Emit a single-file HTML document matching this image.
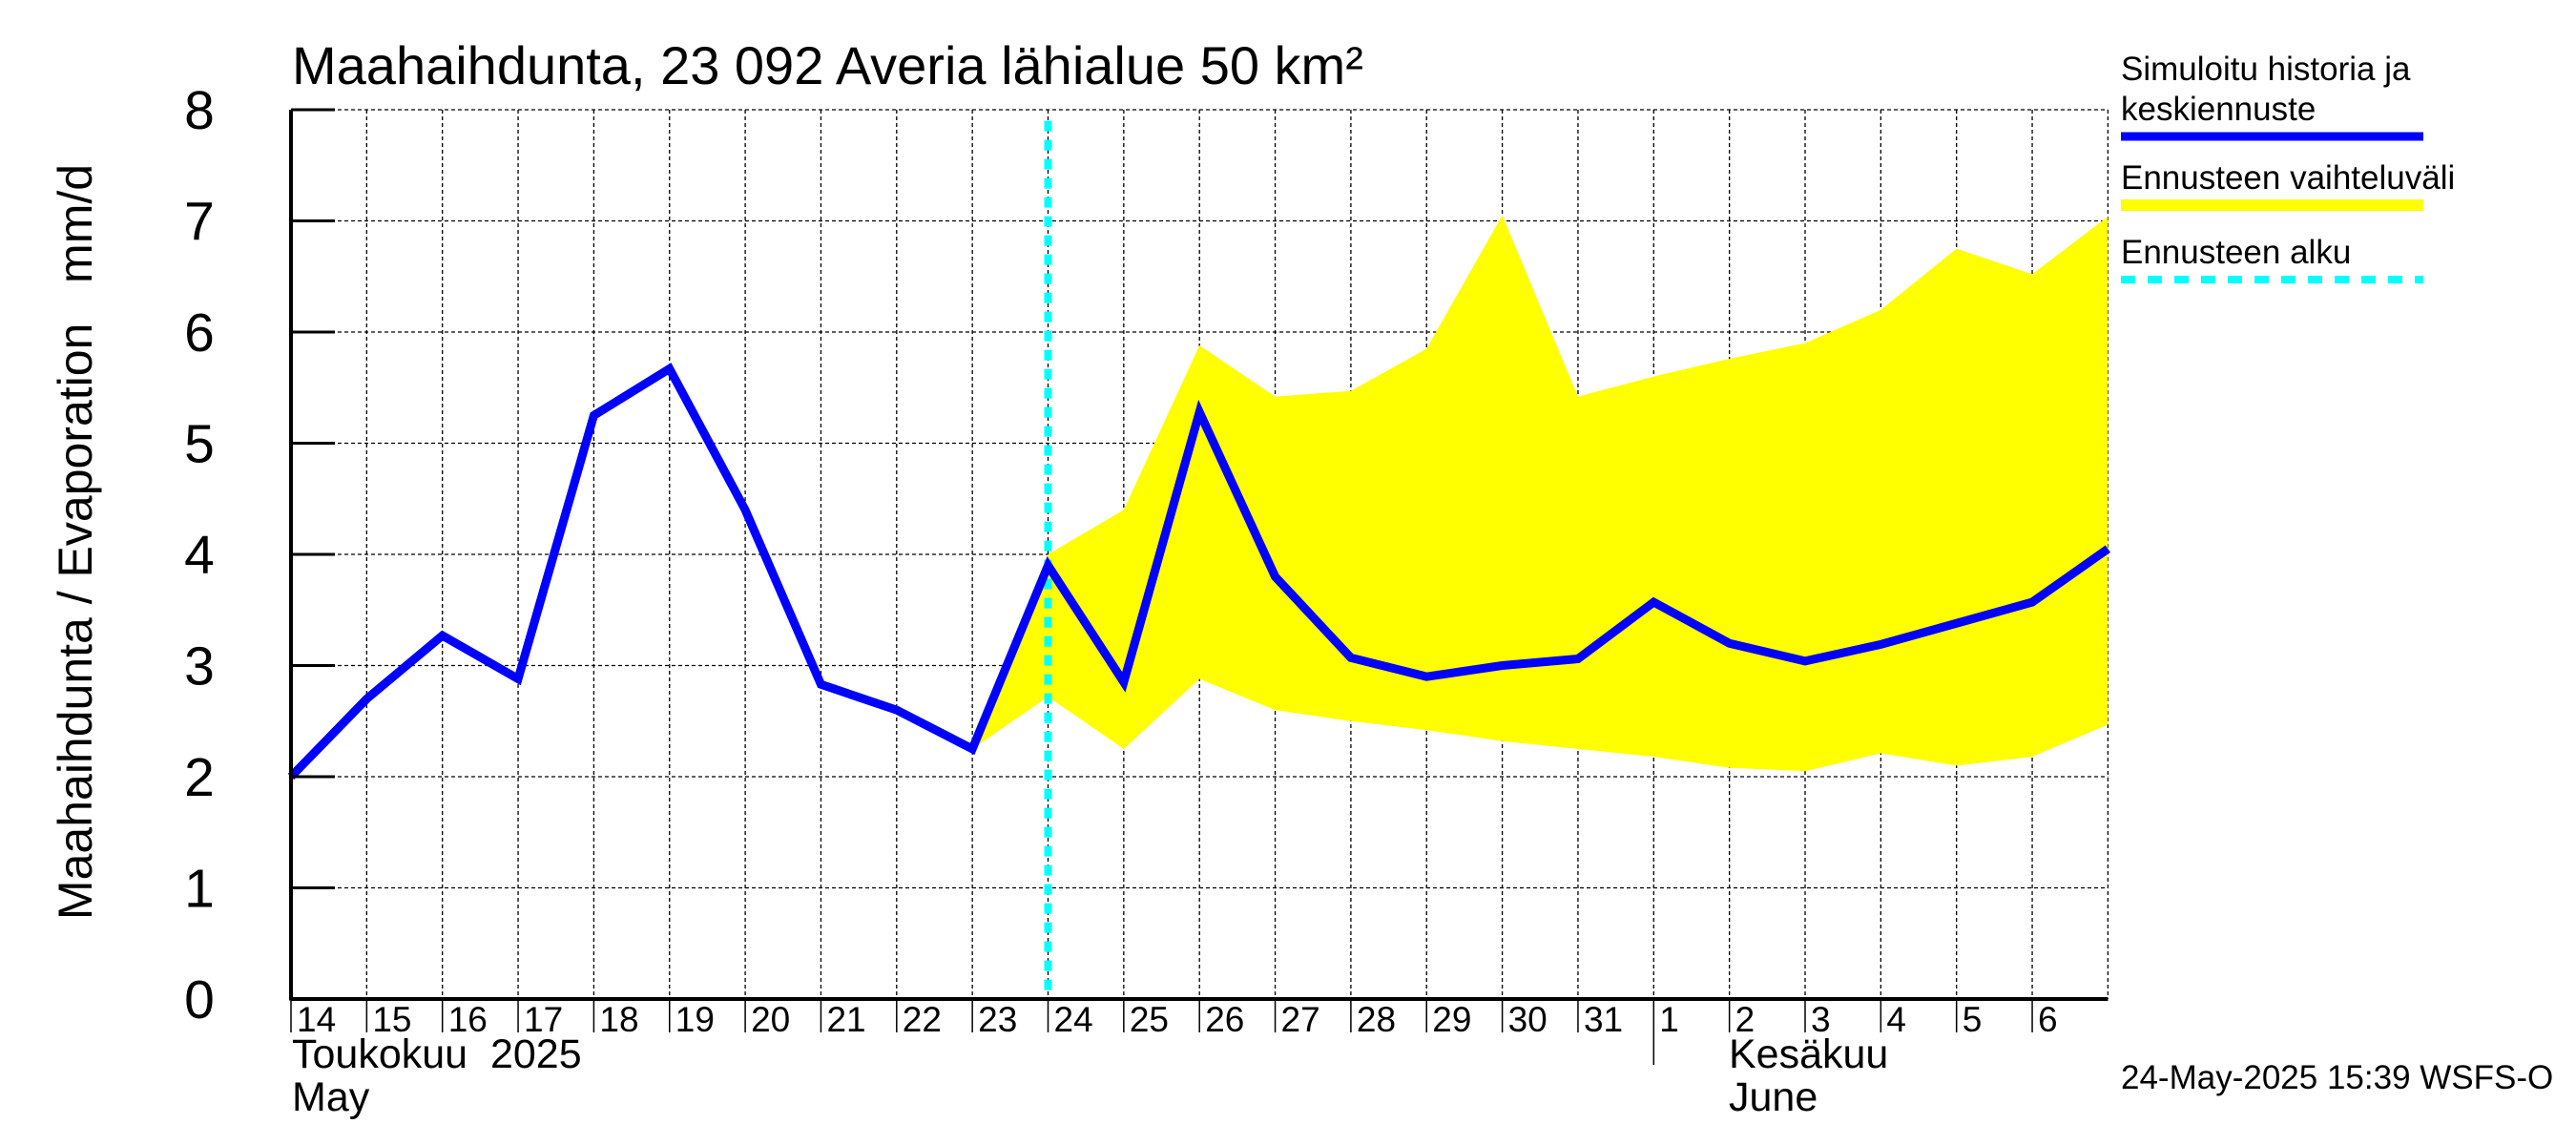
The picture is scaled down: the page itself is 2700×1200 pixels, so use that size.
<!DOCTYPE html>
<html><head><meta charset="utf-8"><style>
html,body{margin:0;padding:0;background:#fff;}
svg{display:block;font-family:"Liberation Sans",sans-serif;}
</style></head><body>
<svg id="chart" width="2700" height="1200" viewBox="0 0 2700 1200">
<g id="grid"></g>
<g id="band"></g>
<g id="series"></g>
<g id="axes"></g>
<text x="306" y="88" font-size="56">Maahaihdunta, 23 092 Averia lähialue 50 km²</text>
<text transform="translate(96,568) rotate(-90)" text-anchor="middle" font-size="50" xml:space="preserve">Maahaihdunta / Evaporation   mm/d</text>
<g>
<text x="2223" y="84" font-size="35">Simuloitu historia ja</text>
<text x="2223" y="126" font-size="35">keskiennuste</text>
<line x1="2223" y1="143" x2="2540" y2="143" stroke="#0000ff" stroke-width="9"/>
<text x="2223" y="198" font-size="35">Ennusteen vaihteluväli</text>
<line x1="2223" y1="215" x2="2540" y2="215" stroke="#ffff00" stroke-width="12"/>
<text x="2223" y="276" font-size="35">Ennusteen alku</text>
<line x1="2223" y1="293" x2="2540" y2="293" stroke="#00ffff" stroke-width="8" stroke-dasharray="15,13"/>
</g>
<text x="2223" y="1141" font-size="35">24-May-2025 15:39 WSFS-O</text>
<text x="306" y="1119" font-size="43" xml:space="preserve">Toukokuu  2025</text>
<text x="306" y="1164" font-size="43">May</text>
<text x="1812" y="1119" font-size="43">Kesäkuu</text>
<text x="1812" y="1164" font-size="43">June</text>
</svg>
<script>
const dayLabels = ["14","15","16","17","18","19","20","21","22","23","24","25","26","27","28","29","30","31","1","2","3","4","5","6"];
const yTicks = [0,1,2,3,4,5,6,7,8];
const meanValues = [2.0,2.7,3.27,2.88,5.25,5.67,4.4,2.83,2.6,2.25,3.9,2.85,5.28,3.8,3.07,2.9,3.0,3.06,3.57,3.2,3.04,3.19,3.38,3.57,4.05];
const bandStart = 9;
const bandUpper = [2.25,4.0,4.4,5.88,5.42,5.47,5.85,7.05,5.42,5.6,5.76,5.9,6.2,6.75,6.52,7.04];
const bandLower = [2.25,2.72,2.25,2.88,2.6,2.5,2.42,2.32,2.25,2.18,2.08,2.05,2.21,2.1,2.18,2.47];
const forecastStartIndex = 10;

const NS = "http://www.w3.org/2000/svg";
const X0 = 305, DX = 79.35, Y0 = 1047, DY = 116.5;
const xs = i => X0 + i * DX;
const ys = v => Y0 - v * DY;
function mk(tag, attrs, parent){const e=document.createElementNS(NS,tag);for(const k in attrs)e.setAttribute(k,attrs[k]);parent.appendChild(e);return e;}
const grid=document.getElementById('grid'), band=document.getElementById('band'), series=document.getElementById('series'), axes=document.getElementById('axes');
const nDays = dayLabels.length;
const xEnd = xs(nDays);
yTicks.forEach(v=>{
  const l=mk('line',{x1:X0,x2:xEnd,y1:ys(v),y2:ys(v),stroke:'#000','stroke-width':1.3,'stroke-dasharray':'4,3'},grid);
  
  
  const t=mk('line',{x1:X0,x2:X0+46,y1:ys(v),y2:ys(v),stroke:'#000','stroke-width':3},axes);
  
  
  const tx=mk('text',{x:209,y:ys(v)+20,'font-size':57,'text-anchor':'middle'},axes);
  tx.textContent=v;
  
  
});
for(let i=1;i<=nDays;i++){
  const l=mk('line',{x1:xs(i),x2:xs(i),y1:ys(8),y2:Y0,stroke:'#000','stroke-width':1.3,'stroke-dasharray':'4,3'},grid);
  
  
}
dayLabels.forEach((d,i)=>{
  const tk=mk('line',{x1:xs(i),x2:xs(i),y1:Y0,y2:i===18?1116:1082,stroke:'#000','stroke-width':1.5},axes);
  
  
  const t=mk('text',{x:xs(i)+6,y:1081,'font-size':37},axes);
  t.textContent=d;
  
  
});
let pts=[];
bandUpper.forEach((v,i)=>pts.push(xs(bandStart+i)+','+ys(v)));
for(let i=bandLower.length-1;i>=0;i--)pts.push(xs(bandStart+i)+','+ys(bandLower[i]));
const poly=mk('polygon',{points:pts.join(' '),fill:'#ffff00'},band);


const fl=mk('line',{x1:xs(forecastStartIndex),x2:xs(forecastStartIndex),y1:ys(7.9),y2:Y0,stroke:'#00ffff','stroke-width':8,'stroke-dasharray':'11,9'},series);


const line=mk('polyline',{points:meanValues.map((v,i)=>xs(i)+','+ys(v)).join(' '),fill:'none',stroke:'#0000ff','stroke-width':9,'stroke-linejoin':'miter'},series);


const ya=mk('line',{x1:X0,x2:X0,y1:ys(8),y2:Y0+1.5,stroke:'#000','stroke-width':4},axes);


const xa=mk('line',{x1:X0,x2:xEnd,y1:Y0,y2:Y0,stroke:'#000','stroke-width':4},axes);


</script>
</body></html>
